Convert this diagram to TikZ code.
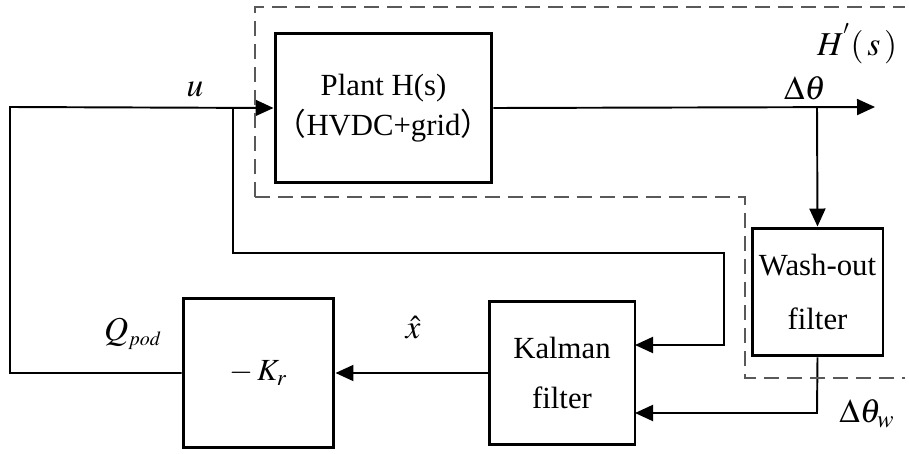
\documentclass[tikz,border=0pt]{standalone}
\usepackage{mathptmx}
\usepackage{fontspec}
\setmainfont{Liberation Serif}
\newfontfamily\cjk{Noto Sans CJK SC}
\usetikzlibrary{arrows.meta}

\begin{document}
\begin{tikzpicture}
[x=0.02cm,y=-0.02cm,
  >={Triangle[length=0.36cm,width=0.32cm]},
  wire/.style={line width=1.1pt},
  blk/.style={draw,line width=1.7pt,align=center,font=\fontsize{17.5}{25}\selectfont},
  lbl/.style={font=\fontsize{19}{22}\selectfont},
  every node/.style={inner sep=0pt}]
\useasboundingbox (0,0) rectangle (909,453);
% blocks
\node[blk,minimum width=4.34cm,minimum height=3cm] (plant) at (383.5,108)
  {Plant H(s)\\[-2pt]{\cjk （}HVDC+grid{\cjk ）}};
\node[blk,minimum width=3.02cm,minimum height=3cm] (gain) at (258.5,373)
  {$-\,K_r$};
\node[blk,minimum width=2.92cm,minimum height=2.88cm] (kalman) at (562,373)
  {Kalman\\[4pt]filter};
\node[blk,minimum width=2.62cm,minimum height=2.56cm] (washout) at (817.5,292)
  {Wash-out\\[6pt]filter};
% corners
\coordinate (loopTL) at (10,107);
\coordinate (loopBL) at (10,373);
\coordinate (ujoin) at (233,107);
\coordinate (uturn1) at (233,253);
\coordinate (uturn2) at (724,253);
\coordinate (uturn3) at (724,345);
\coordinate (kinU) at (635,345);
\coordinate (dtjoin) at (817,107);
\coordinate (dtend) at (875,107);
\coordinate (wturn) at (817,413);
\coordinate (kinW) at (635,413);
% connectors
\draw[wire,->] (gain.west) -- (loopBL) -- (loopTL) -- (plant.west);
\draw[wire,->] (ujoin) -- (uturn1) -- (uturn2) -- (uturn3) -- (kinU);
\draw[wire,->] (plant.east) -- (dtend);
\draw[wire,->] (dtjoin) -- (washout.north);
\draw[wire,->] (washout.south) -- (wturn) -- (kinW);
\draw[wire,->] (kalman.west) -- (gain.east);
% dashed H'(s) region
\draw[gray!70!black,line width=0.8pt,dash pattern=on 0.3cm off 0.16cm]
  (255,197) -- (255,7) -- (905,7)
  (255,197) -- (745,197) -- (745,378) -- (905,378);
% labels
\node[lbl] (ulbl) at (195,89) {$u$};
\node[lbl] (dtlbl) at (805,88) {$\Delta\theta$};
\node[lbl] (hlbl) at (857,44) {$H^{'}\!\,(\,s\,)$};
\node[lbl] (qlbl) at (133,334) {$Q_{\scriptscriptstyle pod}$};
\node[lbl] (xlbl) at (413,328) {$\hat{x}$};
\node[lbl] (dtwlbl) at (867,414) {$\Delta\theta_w$};
\end{tikzpicture}
\end{document}
